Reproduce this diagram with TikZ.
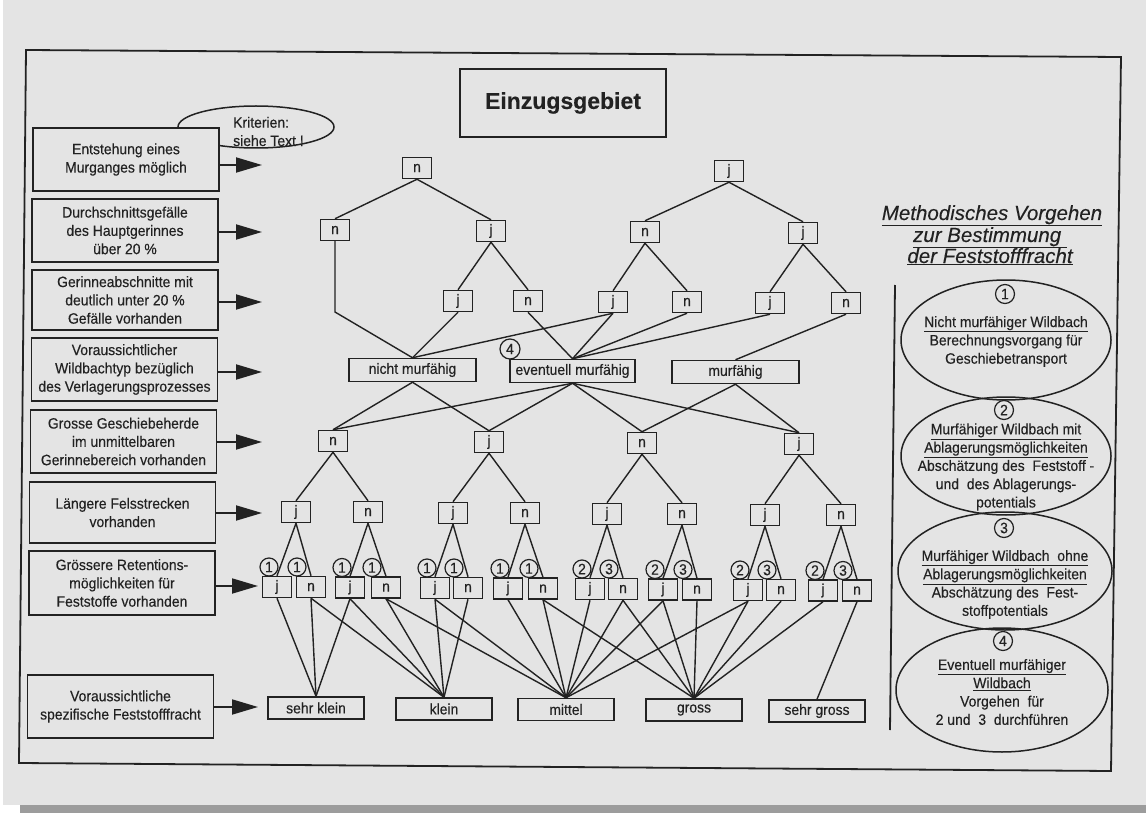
\documentclass[tikz,border=0pt]{standalone}
\usepackage{fontspec}
\setmainfont{Liberation Sans}[FakeStretch=0.93,FakeBold=0.3]
\newfontfamily\plainfont{Liberation Sans}[FakeBold=0.2]
\usetikzlibrary{arrows.meta,shapes.geometric}
\definecolor{page}{HTML}{E4E4E4}
\definecolor{ink}{HTML}{222222}
\definecolor{band}{HTML}{9C9C9C}
\tikzset{
  txt/.style={text=ink, font=\fontsize{15}{18.3}\selectfont},
  lbox/.style={txt, draw=ink, fill=page, line width=1.7pt, inner sep=0pt, align=center, minimum width=186pt},
  sbox/.style={txt, draw=ink, fill=page, line width=1.5pt, inner sep=0pt, minimum width=29pt, minimum height=21pt},
  wbox/.style={txt, draw=ink, fill=page, line width=1.5pt, inner sep=0pt, minimum height=23pt},
  obox/.style={txt, draw=ink, fill=page, line width=1.5pt, inner sep=0pt, minimum width=96pt, minimum height=22pt},
  num/.style={txt, circle, draw=ink, fill=page, line width=1.2pt, inner sep=0pt, minimum size=18pt},
  bnum/.style={txt, circle, draw=ink, fill=page, line width=1.2pt, inner sep=0pt, minimum size=20pt},
  oval/.style={ellipse, draw=ink, line width=1.5pt, inner sep=0pt},
  conn/.style={draw=ink, line width=1.4pt},
  arr/.style={draw=ink, line width=1.8pt, -{Triangle[length=26pt,width=15pt]}},
  frame/.style={draw=ink, line width=1.8pt},
}
\begin{document}
\begin{tikzpicture}[x=1pt,y=-1pt]
\useasboundingbox (0,0) rectangle (1146,813);
\fill[white] (0,0) rectangle (1146,813);
\fill[page] (3,0) rectangle (1146,805);
\fill[band] (20,805) rectangle (1146,813);
\draw[frame] (26,50) -- (1121,57) -- (1111,771) -- (19,763) -- cycle;

% title
\node[txt, draw=ink, fill=page, line width=1.7pt, minimum width=206pt, minimum height=68pt, inner sep=0pt,
      font=\plainfont\bfseries\fontsize{23}{23}\selectfont] (title) at (563,103) {Einzugsgebiet};

% Kriterien
\node[oval, minimum width=156pt, minimum height=42pt] (krit) at (256,127) {};
\node[txt, align=left, anchor=west, inner sep=0pt] (kt) at (233,131.5) {Kriterien:\\siehe Text !};

% left column
\node[lbox, minimum height=63pt] (b1) at (126,159.5) {Entstehung eines\\Murganges möglich};
\node[lbox, minimum height=63pt] (b2) at (125,230.5) {Durchschnittsgefälle\\des Hauptgerinnes\\über 20 \%};
\node[lbox, minimum height=60pt] (b3) at (125,300) {Gerinneabschnitte mit\\deutlich unter 20 \%\\Gefälle vorhanden};
\node[lbox, minimum height=63pt] (b4) at (124.5,369.5) {Voraussichtlicher\\Wildbachtyp bezüglich\\des Verlagerungsprozesses};
\node[lbox, minimum height=63pt] (b5) at (123.5,441.5) {Grosse Geschiebeherde\\im unmittelbaren\\Gerinnebereich vorhanden};
\node[lbox, minimum height=61pt] (b6) at (122.5,512.5) {Längere Felsstrecken\\vorhanden};
\node[lbox, minimum height=64pt] (b7) at (122,583) {Grössere Retentions-\\möglichkeiten für\\Feststoffe vorhanden};
\node[lbox, minimum height=63pt] (b8) at (120.5,706.5) {Voraussichtliche\\spezifische Feststofffracht};

\coordinate (t1) at (262,165);
\coordinate (t2) at (262,232);
\coordinate (t3) at (262,302);
\coordinate (t4) at (262,372);
\coordinate (t5) at (262,442);
\coordinate (t6) at (262,513);
\coordinate (t7) at (258,586);
\coordinate (t8) at (258,707);
\foreach \i in {1,...,8} { \draw[arr] (b\i.east |- t\i) -- (t\i); }

% tree level 1-3
\node[sbox] (a) at (417,168) {n};
\node[sbox] (b) at (729,171) {j};
\node[sbox] (c1) at (335,230) {n};
\node[sbox] (c2) at (491,231) {j};
\node[sbox] (c3) at (645,232) {n};
\node[sbox] (c4) at (803,233) {j};
\node[sbox] (d1) at (458,301) {j};
\node[sbox] (d2) at (528,301) {n};
\node[sbox] (d3) at (613,302) {j};
\node[sbox] (d4) at (687,302) {n};
\node[sbox] (d5) at (770,303) {j};
\node[sbox] (d6) at (846,303) {n};
% level 4
\node[wbox, minimum width=127pt] (nm) at (412.5,370) {nicht murfähig};
\node[wbox, minimum width=125pt] (em) at (572.5,371) {eventuell murfähig};
\node[wbox, minimum width=127pt] (mf) at (735.5,372) {murfähig};
% level 5-6
\node[sbox] (e1) at (333,441) {n};
\node[sbox] (e2) at (489,442) {j};
\node[sbox] (e3) at (642,443) {n};
\node[sbox] (e4) at (799,444) {j};
\node[sbox] (f1) at (296,512) {j};
\node[sbox] (f2) at (368,512) {n};
\node[sbox] (f3) at (453,513) {j};
\node[sbox] (f4) at (525,513) {n};
\node[sbox] (f5) at (607,514) {j};
\node[sbox] (f6) at (682,514) {n};
\node[sbox] (f7) at (765,515) {j};
\node[sbox] (f8) at (841,515) {n};
% leaves
\node[sbox] (g1) at (277,587) {j};
\node[sbox] (g2) at (311,587) {n};
\node[sbox] (g3) at (350,587.5) {j};
\node[sbox] (g4) at (386,587.5) {n};
\node[sbox] (g5) at (435,588) {j};
\node[sbox] (g6) at (468,588) {n};
\node[sbox] (g7) at (508,588.5) {j};
\node[sbox] (g8) at (543,588.5) {n};
\node[sbox] (g9) at (590,589) {j};
\node[sbox] (g10) at (623,589) {n};
\node[sbox] (g11) at (663,589.5) {j};
\node[sbox] (g12) at (697,589.5) {n};
\node[sbox] (g13) at (748,590) {j};
\node[sbox] (g14) at (781,590) {n};
\node[sbox] (g15) at (823,590.5) {j};
\node[sbox] (g16) at (857,590.5) {n};
% outputs
\node[obox] (o1) at (316,708) {sehr klein};
\node[obox] (o2) at (444,709) {klein};
\node[obox] (o3) at (566,709.5) {mittel};
\node[obox] (o4) at (694,710) {gross};
\node[obox] (o5) at (817,711) {sehr gross};

% connectors
\coordinate (bend) at (335,312);
\draw[conn] (a.south) -- (c1.north);
\draw[conn] (a.south) -- (c2.north);
\draw[conn] (b.south) -- (c3.north);
\draw[conn] (b.south) -- (c4.north);
\foreach \p/\q in {c2/d1,c2/d2,c3/d3,c3/d4,c4/d5,c4/d6,
                   d1/nm,d3/nm,d2/em,d3/em,d4/em,d5/em,d6/mf,
                   nm/e1,nm/e2,em/e1,em/e2,em/e3,em/e4,mf/e3,mf/e4,
                   e1/f1,e1/f2,e2/f3,e2/f4,e3/f5,e3/f6,e4/f7,e4/f8,
                   f1/g1,f1/g2,f2/g3,f2/g4,f3/g5,f3/g6,f4/g7,f4/g8,
                   f5/g9,f5/g10,f6/g11,f6/g12,f7/g13,f7/g14,f8/g15,f8/g16,
                   g1/o1,g2/o1,g2/o2,g3/o1,g3/o2,g4/o2,g4/o3,g5/o2,g5/o3,g6/o2,
                   g7/o3,g8/o3,g8/o4,g9/o3,g10/o3,g10/o4,g11/o3,g11/o4,g12/o4,
                   g13/o3,g13/o4,g14/o4,g15/o4,g16/o5}
  { \draw[conn] (\p.south) -- (\q.north); }
\draw[conn] (c1.south) -- (bend) -- (nm.north);

% number circles
\node[bnum] (n4) at (510,349) {4};
\node[num] (k1) at (269,567) {1};
\node[num] (k2) at (297,567) {1};
\node[num] (k3) at (342,567.5) {1};
\node[num] (k4) at (372,567.5) {1};
\node[num] (k5) at (427,568) {1};
\node[num] (k6) at (454,568) {1};
\node[num] (k7) at (500,568.5) {1};
\node[num] (k8) at (529,568.5) {1};
\node[num] (k9) at (582,569) {2};
\node[num] (k10) at (609,569) {3};
\node[num] (k11) at (655,569.5) {2};
\node[num] (k12) at (683,569.5) {3};
\node[num] (k13) at (740,570) {2};
\node[num] (k14) at (767,570) {3};
\node[num] (k15) at (815,570.5) {2};
\node[num] (k16) at (843,570.5) {3};

% right panel
\node[txt, anchor=base, font=\plainfont\itshape\fontsize{20.5}{22}\selectfont] (m1) at (992,220) {\underline{Methodisches Vorgehen}};
\node[txt, anchor=base, font=\plainfont\itshape\fontsize{20.5}{22}\selectfont] (m2) at (990,242) {\underline{zur Bestimmung\ }};
\node[txt, anchor=base, font=\plainfont\itshape\fontsize{20.5}{22}\selectfont] (m3) at (990,263) {\underline{der Feststofffracht}};
\coordinate (vtop) at (895,285);
\coordinate (vbot) at (890,730);
\draw[frame] (vtop) -- (vbot);

\node[oval, minimum width=210pt, minimum height=120pt] (E1) at (1006,340) {};
\node[oval, minimum width=210pt, minimum height=118pt] (E2) at (1006,456) {};
\node[oval, minimum width=214pt, minimum height=118pt] (E3) at (1005,571) {};
\node[oval, minimum width=212pt, minimum height=124pt] (E4) at (1002,690) {};
\node[bnum, minimum size=19pt] (r1) at (1005,294) {1};
\node[bnum, minimum size=19pt] (r2) at (1004,410) {2};
\node[bnum, minimum size=19pt] (r3) at (1004,528) {3};
\node[bnum, minimum size=19pt] (r4) at (1003,641) {4};
\node[txt, align=center, inner sep=0pt] (x1) at (1006,341.5)
  {\underline{Nicht murfähiger Wildbach}\\Berechnungsvorgang für\\Geschiebetransport};
\node[txt, align=center, inner sep=0pt] (x2) at (1006,467)
  {\underline{Murfähiger Wildbach mit}\\\underline{Ablagerungsmöglichkeiten}\\Abschätzung des\ \ Feststoff -\\und\ \ des Ablagerungs-\\potentials};
\node[txt, align=center, inner sep=0pt] (x3) at (1005,584.5)
  {\underline{Murfähiger Wildbach\ \ ohne}\\\underline{Ablagerungsmöglichkeiten}\\Abschätzung des\ \ Fest-\\stoffpotentials};
\node[txt, align=center, inner sep=0pt] (x4) at (1002,692)
  {\underline{Eventuell murfähiger}\\\underline{Wildbach}\\Vorgehen\ \ für\\2 und\ \ 3\ \ durchführen};
\end{tikzpicture}
\end{document}
